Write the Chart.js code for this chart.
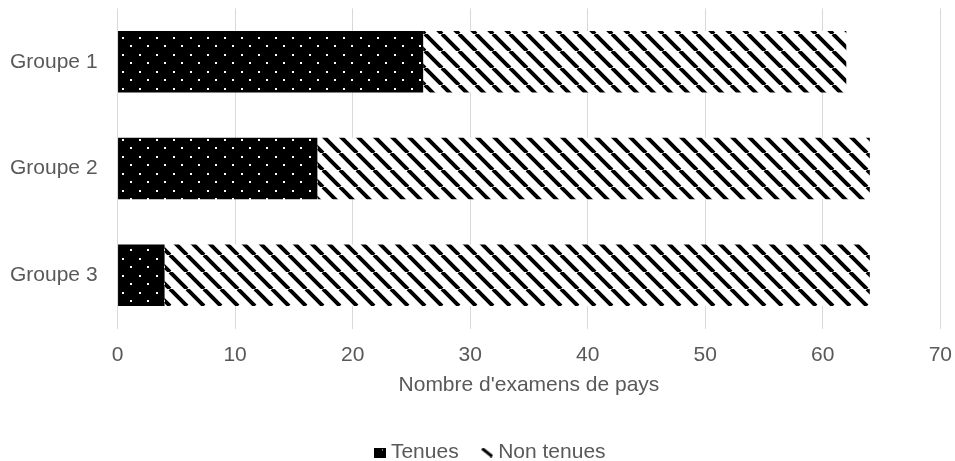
<!DOCTYPE html>
<html>
<head>
<meta charset="utf-8">
<script src="https://cdn.jsdelivr.net/npm/chart.js@4"></script>
<style>
  html, body { margin: 0; padding: 0; background: #ffffff; }
  #wrap { width: 955px; height: 461px; }
</style>
</head>
<body>
<div id="wrap"><canvas id="c" width="955" height="461"></canvas></div>
<script>
// Country-review counts per group
const groups = ['Groupe 1', 'Groupe 2', 'Groupe 3'];
const tenues = [26, 17, 4];
const nonTenues = [36, 47, 60];
const seriesNames = ['Tenues', 'Non tenues'];
const axisTitle = "Nombre d'examens de pays";

// Fill patterns: white dots on black, and black backslash hatching on white
function dotPattern() {
  const t = document.createElement('canvas');
  t.width = 17; t.height = 17;
  const g = t.getContext('2d');
  g.fillStyle = '#000';
  g.fillRect(0, 0, 17, 17);
  g.fillStyle = '#fff';
  g.fillRect(3, 3, 2, 2);
  g.fillRect(11, 11, 2, 2);
  return g.createPattern(t, 'repeat');
}
function hatchPattern() {
  const s = 17;
  const t = document.createElement('canvas');
  t.width = s; t.height = s;
  const g = t.getContext('2d');
  g.fillStyle = '#fff';
  g.fillRect(0, 0, s, s);
  g.strokeStyle = '#000';
  g.lineWidth = 4;
  g.beginPath();
  for (let k = -1; k <= 1; k++) {
    g.moveTo(k * s, 0);
    g.lineTo(k * s + s, s);
  }
  g.stroke();
  return g.createPattern(t, 'repeat');
}

// Small legend swatches
function dotIcon() {
  const t = document.createElement('canvas');
  t.width = 12; t.height = 10;
  const g = t.getContext('2d');
  g.fillStyle = '#000';
  g.fillRect(0, 0, 12, 10);
  g.fillStyle = '#fff';
  g.fillRect(8, 2, 1, 1);
  return t;
}
function hatchIcon() {
  const t = document.createElement('canvas');
  t.width = 12; t.height = 10;
  const g = t.getContext('2d');
  g.strokeStyle = '#000';
  g.lineWidth = 3;
  g.beginPath();
  g.moveTo(1, 1);
  g.lineTo(11, 9);
  g.stroke();
  return t;
}
const icons = [dotIcon(), hatchIcon()];

const grey = '#595959';
const font = { family: 'Liberation Sans, Arial, sans-serif', size: 21 };

// Re-centre the legend row (its measured width includes the trailing item gap)
const legendNudge = {
  id: 'legendNudge',
  afterLayout(chart) {
    const lg = chart.legend;
    if (lg) { lg.left += 10; lg.right += 10; }
  }
};

new Chart(document.getElementById('c'), {
  type: 'bar',
  data: {
    labels: groups,
    datasets: [
      { label: seriesNames[0], data: tenues, backgroundColor: dotPattern(), borderWidth: 0 },
      { label: seriesNames[1], data: nonTenues, backgroundColor: hatchPattern(), borderWidth: 0 }
    ]
  },
  plugins: [legendNudge],
  options: {
    indexAxis: 'y',
    responsive: false,
    animation: false,
    layout: { padding: { top: 0, right: 0, left: 10, bottom: -12 } },
    datasets: { bar: { categoryPercentage: 1, barPercentage: 0.575 } },
    scales: {
      x: {
        stacked: true,
        min: 0, max: 70,
        ticks: { stepSize: 10, color: grey, font: font, padding: 3 },
        grid: { color: '#d9d9d9', drawTicks: true, tickLength: 11, tickColor: 'rgba(0,0,0,0)' },
        border: { display: false },
        title: { display: true, text: axisTitle, color: grey, font: font, padding: { top: 2, bottom: 16 } }
      },
      y: {
        stacked: true,
        ticks: { color: grey, font: { family: font.family, size: 21, lineHeight: 0.8 }, padding: 0 },
        grid: { color: 'rgba(0,0,0,0)', drawTicks: true, tickLength: 20, tickColor: 'rgba(0,0,0,0)' },
        border: { display: false }
      }
    },
    plugins: {
      legend: {
        position: 'bottom',
        labels: {
          color: grey, font: font,
          usePointStyle: true, boxWidth: 1, boxHeight: 10, padding: 28,
          generateLabels(chart) {
            const items = Chart.defaults.plugins.legend.labels.generateLabels(chart);
            items.forEach((it, i) => { it.pointStyle = icons[i]; });
            return items;
          }
        }
      },
      tooltip: { enabled: false }
    }
  }
});
</script>
</body>
</html>
